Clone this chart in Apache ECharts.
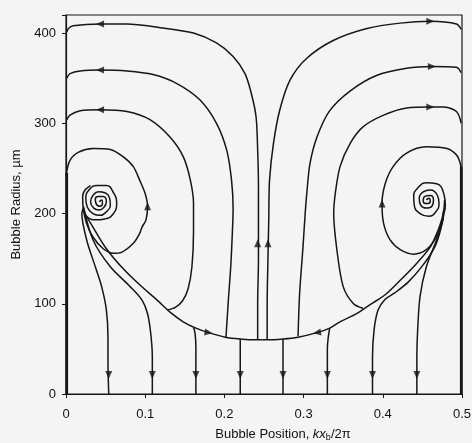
<!DOCTYPE html>
<html>
<head>
<meta charset="utf-8">
<script src="https://cdn.jsdelivr.net/npm/echarts@6/dist/echarts.min.js"></script>
<style>
  html, body { margin: 0; padding: 0; background: #f4f4f4; }
  #main { width: 472px; height: 443px; }
</style>
</head>
<body>
<div id="main"></div>
<script>
// tick labels
var xTicks = [0, 0.1, 0.2, 0.3, 0.4, 0.5]
var yTicks = [0, 100, 200, 300, 400]

// streamlines, [position, radius]
// left half
var topLeft1 = [[0.242,60],[0.242,100],[0.243,150],[0.243,193],[0.243,230],[0.242,270],[0.240,307],[0.234,333],[0.226,355],[0.211,374],[0.190,389],[0.161,400],[0.119,406],[0.077,410],[0.043,410],[0.009,408],[0.003,405],[0.001,401]]
var topLeft2 = [[0.202,63],[0.205,104],[0.208,141],[0.210,178],[0.211,205],[0.209,237],[0.203,270],[0.190,300],[0.169,326],[0.140,344],[0.110,354],[0.077,358],[0.043,359],[0.018,358],[0.005,355],[0.001,350]]
var topLeft3 = [[0.128,93],[0.138,96],[0.147,103],[0.154,116],[0.159,141],[0.161,180],[0.161,211],[0.157,237],[0.148,263],[0.131,285],[0.106,304],[0.077,313],[0.043,315],[0.018,314],[0.005,309],[0.001,304]]
var loopLeft = [[0.000,242],[0.005,259],[0.016,268],[0.034,272],[0.056,271],[0.072,263],[0.085,252],[0.093,237],[0.100,222],[0.103,208],[0.101,193],[0.096,185],[0.093,178],[0.085,167],[0.070,157],[0.060,156],[0.047,161],[0.034,174],[0.026,189],[0.022,204],[0.021,219],[0.024,226],[0.031,231]]
var spiralLeft = [[0.042,213],[0.045,215],[0.046,211],[0.043,208],[0.038,211],[0.037,216],[0.041,219],[0.047,219],[0.051,213],[0.048,207],[0.042,204],[0.035,206],[0.031,213],[0.034,220],[0.041,224],[0.049,223],[0.055,217],[0.056,209],[0.051,202],[0.043,198],[0.034,200],[0.027,207],[0.025,217],[0.029,226],[0.039,231],[0.051,231],[0.060,223],[0.064,211],[0.059,199],[0.049,194],[0.038,193],[0.027,196],[0.022,204]]
var sepLeft = [[0.022,206],[0.024,200],[0.034,185],[0.051,161],[0.072,139],[0.093,121],[0.115,104],[0.131,91],[0.148,80],[0.164,73],[0.180,68],[0.201,63],[0.220,61],[0.241,60],[0.248,60]]
var downLeftA = [[0.022,206],[0.020,200],[0.026,171],[0.037,141],[0.045,119],[0.051,93],[0.053,63],[0.053,34],[0.054,0]]
var downLeftB = [[0.022,208],[0.034,171],[0.056,141],[0.081,119],[0.096,104],[0.103,89],[0.107,67],[0.109,41],[0.109,0]]
var downLeftC = [[0.161,74],[0.163,67],[0.164,52],[0.164,0]]
var downLeftD = [[0.220,61],[0.220,0]]
var wallLeft = [[0.001,0],[0.001,245]]

// right half
var topRight1 = [[0.254,60],[0.254,100],[0.255,150],[0.256,193],[0.257,237],[0.262,278],[0.270,315],[0.283,348],[0.304,372],[0.338,392],[0.380,405],[0.422,411],[0.460,413],[0.493,410],[0.499,404]]
var topRight2 = [[0.293,64],[0.295,112],[0.299,160],[0.302,200],[0.304,222],[0.308,255],[0.317,285],[0.333,314],[0.359,336],[0.392,353],[0.430,361],[0.462,363],[0.493,362],[0.499,356]]
var topRight3 = [[0.375,95],[0.363,100],[0.350,119],[0.342,160],[0.338,200],[0.340,222],[0.346,252],[0.359,278],[0.375,296],[0.401,309],[0.430,317],[0.460,318],[0.476,318],[0.493,313],[0.499,300]]
var loopRight = [[0.499,250],[0.497,258],[0.493,265],[0.481,272],[0.455,274],[0.430,267],[0.413,252],[0.403,233],[0.399,211],[0.401,189],[0.409,171],[0.422,160],[0.439,155],[0.455,160],[0.467,173],[0.474,188],[0.477,203],[0.478,215]]
var spiralRight = [[0.455,215],[0.458,217],[0.460,213],[0.455,211],[0.451,214],[0.453,219],[0.460,220],[0.464,215],[0.462,208],[0.455,206],[0.448,209],[0.446,217],[0.451,224],[0.460,226],[0.469,220],[0.471,211],[0.467,202],[0.458,197],[0.447,200],[0.440,208],[0.439,219],[0.445,229],[0.455,234],[0.468,233],[0.477,222],[0.479,209],[0.477,200]]
var sepRight = [[0.477,204],[0.475,195],[0.470,182],[0.460,163],[0.443,145],[0.422,126],[0.403,110],[0.384,99],[0.367,89],[0.346,80],[0.333,73],[0.317,68],[0.293,63],[0.274,61],[0.253,60],[0.248,60]]
var downRightA = [[0.477,204],[0.476,193],[0.472,182],[0.468,171],[0.455,141],[0.447,108],[0.444,71],[0.443,41],[0.443,0]]
var downRightB = [[0.478,206],[0.473,182],[0.465,162],[0.450,142],[0.432,124],[0.415,112],[0.403,105],[0.394,93],[0.389,71],[0.387,41],[0.387,0]]
var downRightC = [[0.333,73],[0.331,62],[0.330,50],[0.330,0]]
var downRightD = [[0.274,61],[0.274,0]]
var wallRight = [[0.499,0],[0.499,252]]

// arrow heads [position, radius, direction in degrees]
var arrows = [
    [0.043,410,90],[0.043,359,90],[0.043,315,90],
    [0.460,413,-90],[0.462,363,-90],[0.460,318,-90],
    [0.242,167,0],[0.255,167,0],
    [0.103,208,0],[0.399,211,0],
    [0.180,68,-100],[0.317,68,100],
    [0.054,21,180],[0.109,21,180],[0.164,21,180],[0.220,21,180],
    [0.274,21,180],[0.330,21,180],[0.387,21,180],[0.443,21,180]
]

var INK = '#161616'
var FONT = 'Liberation Sans'

function curve(data, width, smooth) {
    return {
        type: 'line',
        data: data,
        showSymbol: false,
        symbol: 'none',
        smooth: smooth === undefined ? 0.3 : smooth,
        clip: false,
        silent: true,
        lineStyle: {color: INK, width: width || 1.5}
    }
}

var lines = [topLeft1, topLeft2, topLeft3, loopLeft, sepLeft, downLeftA, downLeftB, downLeftC, downLeftD,
    topRight1, topRight2, topRight3, loopRight, sepRight, downRightA, downRightB, downRightC, downRightD]

var series = []
lines.forEach(function (d) { series.push(curve(d)) })
series.push(curve(spiralLeft, 1.5, 0.5))
series.push(curve(spiralRight, 1.5, 0.5))
series.push(curve(wallLeft, 2.6, 0))
series.push(curve(wallRight, 2.6, 0))
series.push({
    type: 'scatter',
    data: arrows,
    symbol: 'triangle',
    symbolSize: [7, 8],
    symbolRotate: function (val) { return val[2] },
    itemStyle: {color: INK},
    silent: true
})

var myChart = echarts.init(document.getElementById('main'))
var option = {
    animation: false,
    backgroundColor: '#f4f4f4',
    grid: {
        left: 66, right: 10, top: 15, bottom: 49,
        outerBoundsMode: 'none', containLabel: false,
        show: true, borderColor: INK, borderWidth: 1.2
    },
    xAxis: {
        type: 'value',
        min: xTicks[0],
        max: xTicks[xTicks.length - 1],
        interval: 0.1,
        axisLine: {show: true, lineStyle: {color: INK, width: 1.2}},
        axisTick: {show: true, length: 4, lineStyle: {color: INK}},
        splitLine: {show: false},
        axisLabel: {
            margin: 14, fontSize: 13, color: '#111', fontFamily: FONT,
            formatter: function (v) { return v === 0 ? '0' : v.toFixed(1) }
        },
        name: 'Bubble Position, {i|kx}{s|b}/2π',
        nameLocation: 'middle',
        nameGap: 33,
        nameTextStyle: {
            fontSize: 13, color: '#111', fontFamily: FONT, padding: [0, 0, 0, 38],
            rich: {
                i: {fontSize: 13, fontStyle: 'italic', color: '#111', fontFamily: FONT},
                s: {fontSize: 9, color: '#111', fontFamily: FONT, padding: [6, 0, 0, 0]}
            }
        }
    },
    yAxis: {
        type: 'value',
        min: 0,
        max: 420,
        interval: 100,
        axisLine: {show: true, lineStyle: {color: INK, width: 1.2}},
        axisTick: {show: true, length: 4, lineStyle: {color: INK}},
        splitLine: {show: false},
        axisLabel: {
            margin: 10, fontSize: 13, color: '#111', fontFamily: FONT,
            formatter: function (v) { return yTicks.indexOf(v) >= 0 ? String(v) : '' }
        },
        name: 'Bubble Radius, µm',
        nameLocation: 'middle',
        nameGap: 43,
        nameTextStyle: {fontSize: 13, color: '#111', fontFamily: FONT}
    },
    series: series
}
myChart.setOption(option)
</script>
</body>
</html>
